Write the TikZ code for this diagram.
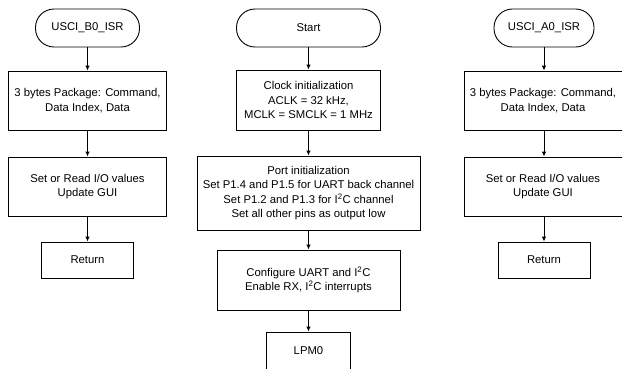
\documentclass[tikz,border=0pt]{standalone}
\usepackage{fontspec}
\setmainfont{Liberation Sans}
\usetikzlibrary{arrows.meta}
\begin{document}
\begin{tikzpicture}[x=1pt,y=-1pt,
  every node/.style={font=\fontsize{11.3}{14.5}\selectfont, align=center, inner sep=0pt},
  term/.style={draw, line width=0.9pt, rounded corners=18.5pt, minimum height=38pt},
  procbox/.style={draw, line width=0.9pt},
  conn/.style={line width=0.9pt, -{Latex[length=5pt,width=4.5pt]}}]
\useasboundingbox (0,0) rectangle (622,368);
\clip (0,0) rectangle (622,368);
% left column
\node[term, minimum width=104pt] (lt) at (87.5,28) {USCI\_B0\_ISR};
\node[procbox, minimum width=158pt, minimum height=59pt] (lb1) at (87.5,100.5) {3 bytes Package: Command,\\Data Index, Data};
\node[procbox, minimum width=158pt, minimum height=59pt] (lb2) at (87.5,186.5) {Set or Read I/O values\\Update GUI};
\node[procbox, minimum width=92pt, minimum height=36pt] (lr) at (87.5,260) {Return};
% center column
\node[term, minimum width=144pt] (st) at (308.5,28) {Start};
\node[procbox, minimum width=144pt, minimum height=60pt] (cb) at (308.5,100) {Clock initialization\\ACLK = 32 kHz,\\MCLK = SMCLK = 1 MHz};
\node[procbox, minimum width=223pt, minimum height=74pt] (pb) at (308.5,193) {Port initialization\\Set P1.4 and P1.5 for UART back channel\\Set P1.2 and P1.3 for I\textsuperscript{2}C channel\\Set all other pins as output low};
\node[procbox, minimum width=183pt, minimum height=60pt] (cf) at (308.5,280) {Configure UART and I\textsuperscript{2}C\\Enable RX, I\textsuperscript{2}C interrupts};
\node[procbox, minimum width=84pt, minimum height=42pt] (lp) at (308.5,353) {};
\node (lpt) at (308.5,351) {LPM0};
% right column
\node[term, minimum width=100pt] (rt) at (544,28) {USCI\_A0\_ISR};
\node[procbox, minimum width=159pt, minimum height=59pt] (rb1) at (544,100.5) {};
\node at (543,100.5) {3 bytes Package: Command,\\Data Index, Data};
\node[procbox, minimum width=159pt, minimum height=59pt] (rb2) at (544,186.5) {};
\node at (543,186.5) {Set or Read I/O values\\Update GUI};
\node[procbox, minimum width=92pt, minimum height=36pt] (rr) at (544,260) {Return};
% connectors
\draw[conn] (lt) -- (lb1);
\draw[conn] (lb1) -- (lb2);
\draw[conn] (lb2) -- (lr);
\draw[conn] (st) -- (cb);
\draw[conn] (cb) -- (pb);
\draw[conn] (pb) -- (cf);
\draw[conn] (cf) -- (lp);
\draw[conn] (rt) -- (rb1);
\draw[conn] (rb1) -- (rb2);
\draw[conn] (rb2) -- (rr);
\end{tikzpicture}
\end{document}
